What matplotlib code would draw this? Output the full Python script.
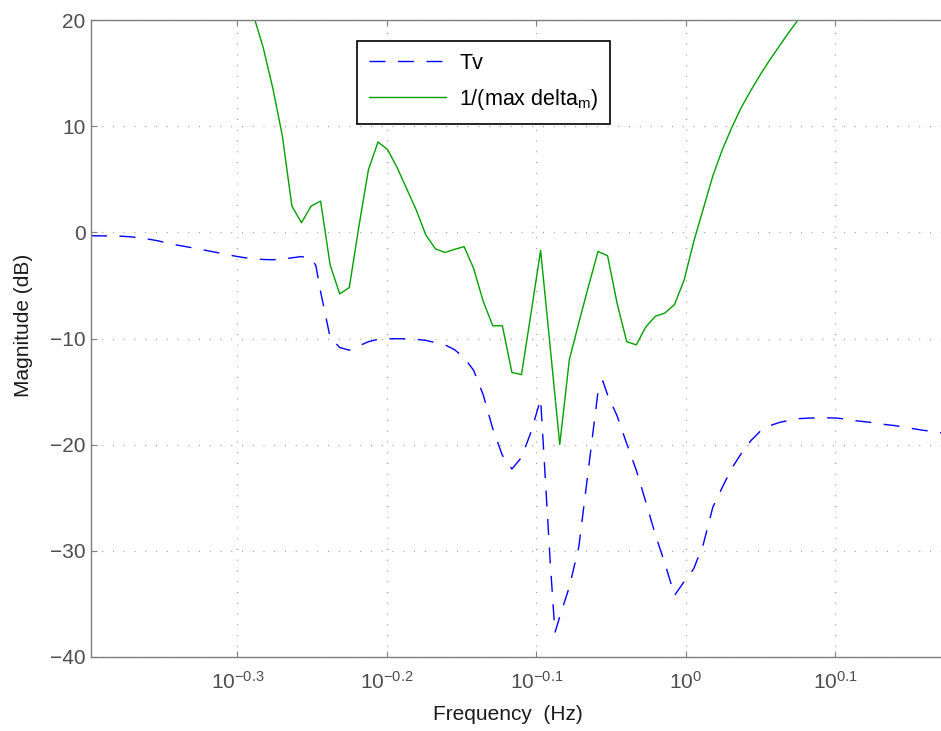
import matplotlib
matplotlib.use("Agg")
import matplotlib.pyplot as plt
from matplotlib.ticker import FixedLocator, FixedFormatter, NullLocator

plt.rcParams['font.family'] = ['Liberation Sans', 'DejaVu Sans']
plt.rcParams['mathtext.fontset'] = 'custom'
plt.rcParams['mathtext.rm'] = 'Liberation Sans'
plt.rcParams['mathtext.it'] = 'Liberation Sans'

# ---- data (frequency in Hz, magnitude in dB) ----
freq_tv = [0.40000, 0.40594, 0.41197, 0.41809, 0.42430, 0.43060, 0.43699, 0.44348,
           0.45006, 0.45674, 0.46352, 0.47040, 0.47738, 0.48447, 0.49166, 0.49896,
           0.50637, 0.51389, 0.52152, 0.52926, 0.53712, 0.54509, 0.55318, 0.56139,
           0.56554, 0.56973, 0.57819, 0.58677, 0.59548, 0.60432, 0.61329, 0.62240,
           0.63164, 0.64102, 0.65054, 0.66020, 0.67000, 0.67995, 0.69005, 0.70030,
           0.71070, 0.72121, 0.73192, 0.74279, 0.75382, 0.76501, 0.77637, 0.78790,
           0.79960, 0.81147, 0.81747, 0.82352, 0.83575, 0.84813, 0.86072, 0.87350,
           0.87996, 0.88647, 0.89963, 0.91299, 0.92654, 0.94030, 0.95426, 0.96843,
           0.98279, 0.99738, 1.01219, 1.02722, 1.04247, 1.05795, 1.07366, 1.08960,
           1.10578, 1.12220, 1.13883, 1.15574, 1.17290, 1.19031, 1.20798, 1.22591,
           1.24411, 1.26258, 1.28132, 1.30035, 1.31966, 1.33925, 1.35913, 1.37931,
           1.39979, 1.42057, 1.44166, 1.46306, 1.48478]
tv_db = [-0.32, -0.33, -0.34, -0.36, -0.41, -0.50, -0.64, -0.80,
         -1.02, -1.20, -1.36, -1.52, -1.70, -1.87, -2.06, -2.23,
         -2.38, -2.49, -2.56, -2.58, -2.53, -2.40, -2.28, -2.50,
         -3.10, -5.60, -9.90, -10.85, -11.10, -10.70, -10.30, -10.08,
         -10.03, -10.02, -10.03, -10.08, -10.18, -10.38, -10.60, -11.05,
         -11.80, -13.00, -15.30, -18.50, -21.00, -22.30, -21.20, -18.80,
         -15.70, -31.00, -37.70, -36.20, -33.40, -29.60, -22.30, -15.00,
         -14.00, -15.30, -17.30, -19.90, -22.40, -25.40, -28.50, -31.20,
         -34.20, -32.90, -31.70, -29.40, -25.90, -24.00, -22.20, -20.80,
         -19.60, -18.70, -18.20, -17.90, -17.70, -17.55, -17.50, -17.48,
         -17.47, -17.50, -17.60, -17.75, -17.85, -17.95, -18.10, -18.20,
         -18.35, -18.50, -18.65, -18.75, -18.90]

freq_inv = [0.51389, 0.52152, 0.52926, 0.53712, 0.54509, 0.55318, 0.56139, 0.56973,
            0.57819, 0.58677, 0.59548, 0.60432, 0.61329, 0.62240, 0.63164, 0.64102,
            0.65054, 0.66020, 0.67000, 0.67995, 0.69005, 0.70030, 0.71070, 0.72121,
            0.73192, 0.74279, 0.75382, 0.76501, 0.77637, 0.78790, 0.79960, 0.81147,
            0.82352, 0.83575, 0.84813, 0.86072, 0.87350, 0.88647, 0.89963, 0.91299,
            0.92654, 0.94030, 0.95426, 0.96843, 0.98279, 0.99738, 1.01219, 1.02722,
            1.04247, 1.05795, 1.07366, 1.08960, 1.10578, 1.12220, 1.13883, 1.15574,
            1.17290, 1.19031, 1.20798]
inv_delta_db = [20.4, 17.4, 13.6, 9.1, 2.47, 0.9, 2.47, 2.94,
                -3.08, -5.8, -5.2, 0.53, 5.9, 8.5, 7.8, 6.1,
                4.1, 2.1, -0.25, -1.55, -1.9, -1.6, -1.35, -3.4,
                -6.5, -8.8, -8.8, -13.2, -13.4, -7.6, -1.7, -10.8,
                -20.0, -12.0, -8.5, -5.1, -1.8, -2.2, -6.7, -10.3,
                -10.6, -8.9, -7.9, -7.6, -6.8, -4.5, -0.9, 2.2,
                5.3, 7.8, 9.9, 11.8, 13.4, 14.9, 16.3, 17.6,
                18.9, 20.1, 21.2]

xtick_vals = [10 ** -0.3, 10 ** -0.2, 10 ** -0.1, 10 ** 0, 10 ** 0.1]
xtick_labels = [r'$\mathregular{10^{-0.3}}$', r'$\mathregular{10^{-0.2}}$',
                r'$\mathregular{10^{-0.1}}$', r'$\mathregular{10^{0}}$',
                r'$\mathregular{10^{0.1}}$']
ytick_vals = [-40, -30, -20, -10, 0, 10, 20]
ytick_labels = ['\u221240', '\u221230', '\u221220', '\u221210', '0', '10', '20']

# ---- figure ----
W, H = 941, 731
AX_L, AX_R, AX_T, AX_B = 91, 949, 20, 657
fig = plt.figure(figsize=(W / 100, H / 100), dpi=100)
ax = fig.add_axes([AX_L / W, (H - AX_B) / H, (AX_R - AX_L) / W, (AX_B - AX_T) / H])

ax.plot(freq_tv, tv_db, color='#0000ff', lw=1.0, dashes=(11.5, 9.0), label='Tv')
ax.plot(freq_inv, inv_delta_db, color='#00a000', lw=1.0,
        label=r'1/(max delta$_{\mathregular{m}}$)')

ax.set_xscale('log')
ax.set_xlim(0.4, 1.5)
ax.set_ylim(-40, 20)

ax.xaxis.set_major_locator(FixedLocator(xtick_vals))
ax.xaxis.set_major_formatter(FixedFormatter(xtick_labels))
ax.xaxis.set_minor_locator(NullLocator())
ax.yaxis.set_major_locator(FixedLocator(ytick_vals))
ax.yaxis.set_major_formatter(FixedFormatter(ytick_labels))

axis_gray = '#7f7f7f'
for s in ax.spines.values():
    s.set_color(axis_gray)
    s.set_linewidth(1.0)

ax.tick_params(axis='both', which='major', direction='in', length=4.5, width=0.8,
               color=axis_gray, labelcolor='#4d4d4d', labelsize=15,
               top=True, right=True)
ax.tick_params(axis='x', pad=10)
ax.tick_params(axis='y', pad=4)

ax.grid(True, which='major', color='#9a9a9a', lw=0.9, dashes=(0.8, 7.8))

ax.set_xlabel('Frequency  (Hz)', fontsize=15, color='#1a1a1a')
ax.set_ylabel('Magnitude (dB)', fontsize=15, color='#1a1a1a')
AXW, AXH = AX_R - AX_L, AX_B - AX_T
ax.xaxis.set_label_coords((508 - AX_L) / AXW, (AX_B - 705) / AXH)
ax.yaxis.set_label_coords((33 - AX_L) / AXW, (AX_B - 325) / AXH)

leg = ax.legend(loc='upper left', bbox_to_anchor=((357 - AX_L) / AXW, (AX_B - 41) / AXH),
                borderaxespad=0, fontsize=15.5,
                handlelength=3.6, handletextpad=0.6, borderpad=0.55,
                labelspacing=0.6, frameon=True, fancybox=False, framealpha=1)
leg.get_frame().set_edgecolor('black')
leg.get_frame().set_linewidth(1.2)

fig.savefig('out.png', dpi=100)
